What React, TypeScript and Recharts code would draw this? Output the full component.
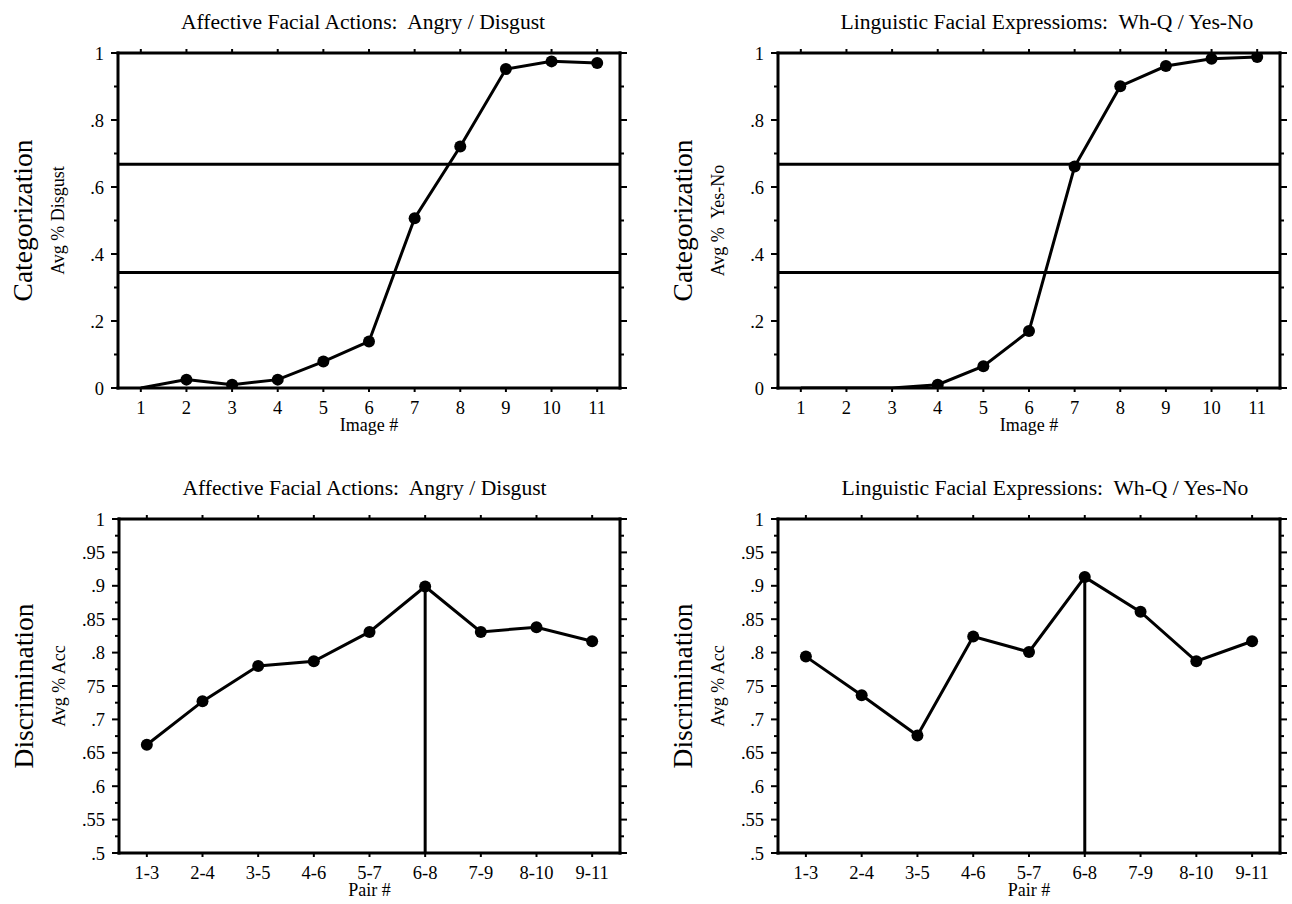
import React from 'react';
import { LineChart, Line, XAxis, YAxis, ReferenceLine } from 'recharts';

// ---------------- data ----------------
const imageNums = [1, 2, 3, 4, 5, 6, 7, 8, 9, 10, 11];
const affectiveCat = [0, 0.025, 0.01, 0.025, 0.079, 0.139, 0.507, 0.721, 0.952, 0.975, 0.97];
const linguisticCat = [0, 0, 0, 0.01, 0.065, 0.17, 0.661, 0.901, 0.961, 0.983, 0.988];

const pairNums = [1, 2, 3, 4, 5, 6, 7, 8, 9];
const pairLabels = ['1-3', '2-4', '3-5', '4-6', '5-7', '6-8', '7-9', '8-10', '9-11'];
const affectiveDisc = [0.662, 0.727, 0.78, 0.787, 0.831, 0.899, 0.831, 0.838, 0.817];
const linguisticDisc = [0.794, 0.736, 0.676, 0.824, 0.801, 0.913, 0.861, 0.787, 0.817];

const catBoundaries = [0.668, 0.345];
const peakPair = 6;

const catTicks = [0, 0.1, 0.2, 0.3, 0.4, 0.5, 0.6, 0.7, 0.8, 0.9, 1];
const catTickLabels = ['0', '', '.2', '', '.4', '', '.6', '', '.8', '', '1'];
const discTicks = [0.5, 0.525, 0.55, 0.575, 0.6, 0.625, 0.65, 0.675, 0.7, 0.725, 0.75, 0.775, 0.8, 0.825, 0.85, 0.875, 0.9, 0.925, 0.95, 0.975, 1];
const discTickLabels = ['.5', '', '.55', '', '.6', '', '.65', '', '.7', '', '75', '', '.8', '', '.85', '', '.9', '', '.95', '', '1'];

const titles = [
  'Affective Facial Actions:  Angry / Disgust',
  'Linguistic Facial Expressioms:  Wh-Q / Yes-No',
  'Affective Facial Actions:  Angry / Disgust',
  'Linguistic Facial Expressions:  Wh-Q / Yes-No',
];

// ---------------- style ----------------
const FONT = '"Liberation Serif", "Times New Roman", Times, serif';
const INK = '#000';
const YS = 7; // y tickSize
const YM = 7; // y tickMargin
const XS = 4; // x tickSize
const XM = 14; // x tickMargin
const TICK_FS = 18.5;

const axisLine = { stroke: INK, strokeWidth: 3, strokeLinecap: 'square' as const };

const leftTick = (labels: string[]) => (p: any) => {
  const { x, y, index } = p;
  const ax = x + YS + YM;
  const lab = labels[index] ?? '';
  const len = lab ? 7 : 4;
  return (
    <g>
      <line x1={ax - len} x2={ax} y1={y} y2={y} stroke={INK} strokeWidth={2} />
      {lab ? (
        <text x={ax - 14} y={y} dy="0.36em" textAnchor="end" fontFamily={FONT} fontSize={TICK_FS} fill={INK}>
          {lab}
        </text>
      ) : null}
    </g>
  );
};

const rightTick = (labels: string[]) => (p: any) => {
  const { x, y, index } = p;
  const ax = x - YS - YM;
  const lab = labels[index] ?? '';
  const len = lab ? 7 : 4;
  return <line x1={ax} x2={ax + len} y1={y} y2={y} stroke={INK} strokeWidth={2} />;
};

const bottomTick = (labels: string[]) => (p: any) => {
  const { x, y, index } = p;
  const ay = y - XS - XM;
  return (
    <g>
      <line x1={x} x2={x} y1={ay} y2={ay + 4} stroke={INK} strokeWidth={2} />
      <text x={x} y={ay + 19} dy="0.36em" textAnchor="middle" fontFamily={FONT} fontSize={TICK_FS} fill={INK}>
        {labels[index]}
      </text>
    </g>
  );
};

const topTick = (p: any) => {
  const { x, y } = p;
  const ay = y + XS + XM;
  return <line x1={x} x2={x} y1={ay - 4} y2={ay} stroke={INK} strokeWidth={2} />;
};

const renderDot = (p: any) => {
  const { cx, cy, index, payload } = p;
  if (!(payload && payload.v > 0)) return <g key={`d${index}`} />;
  return <circle key={`d${index}`} cx={cx} cy={cy} r={6} fill={INK} stroke="none" />;
};

type PanelProps = {
  left: number;
  top: number;
  width: number;
  height: number;
  plotLeft: number;
  plotRight: number;
  plotTop: number;
  plotBottom: number;
  title: string;
  titleDx: number;
  bigLabel: string;
  smallLabel: string;
  xLabel: string;
  xs: number[];
  xLabels: string[];
  values: number[];
  yTicks: number[];
  yLabels: string[];
  yDomain: [number, number];
  hLines?: number[];
  peak?: number;
};

const LW = 40;
const RW = 10;
const TH = 10;
const BH = 30;

function Panel(props: PanelProps) {
  const {
    left, top, width, height, plotLeft, plotRight, plotTop, plotBottom,
    title, titleDx, bigLabel, smallLabel, xLabel, xs, xLabels, values, yTicks, yLabels, yDomain, hLines, peak,
  } = props;
  const data = xs.map((x, i) => ({ x, v: values[i] }));
  const margin = {
    left: plotLeft - LW,
    right: width - plotRight - RW,
    top: plotTop - TH,
    bottom: height - plotBottom - BH,
  };
  const xDomain: [number, number] = [xs[0] - 0.5, xs[xs.length - 1] + 0.5];

  const titleContent = (lp: any) => {
    const vb = lp.viewBox || {};
    const cx = vb.x + vb.width / 2 + titleDx;
    const cy = vb.y + vb.height - 32;
    return (
      <text x={cx} y={cy} dy="0.36em" textAnchor="middle" fontFamily={FONT} fontSize={21.6} fill={INK} style={{ whiteSpace: 'pre' }}>
        {title}
      </text>
    );
  };
  const sideContent = (lp: any) => {
    const vb = lp.viewBox || {};
    const right = vb.x + vb.width;
    const cy = vb.y + vb.height / 2;
    const x1 = right - 96;
    const x2 = right - 60;
    return (
      <g>
        <text x={x1} y={cy} transform={`rotate(-90, ${x1}, ${cy})`} textAnchor="middle" dominantBaseline="central" fontFamily={FONT} fontSize={27.5} fill={INK}>
          {bigLabel}
        </text>
        <text x={x2} y={cy} transform={`rotate(-90, ${x2}, ${cy})`} textAnchor="middle" dominantBaseline="central" fontFamily={FONT} fontSize={18} fill={INK} style={{ whiteSpace: 'pre' }}>
          {smallLabel}
        </text>
      </g>
    );
  };
  const xLabelContent = (lp: any) => {
    const vb = lp.viewBox || {};
    const cx = vb.x + vb.width / 2;
    const cy = vb.y + 37;
    return (
      <text x={cx} y={cy} dy="0.36em" textAnchor="middle" fontFamily={FONT} fontSize={18} fill={INK}>
        {xLabel}
      </text>
    );
  };

  return (
    <div style={{ position: 'absolute', left, top, width, height }}>
      <LineChart width={width} height={height} data={data} margin={margin}>
        <XAxis
          dataKey="x"
          type="number"
          domain={xDomain}
          ticks={xs}
          interval={0}
          orientation="bottom"
          height={BH}
          tickSize={XS}
          tickMargin={XM}
          tickLine={false}
          axisLine={axisLine}
          tick={bottomTick(xLabels)}
          allowDataOverflow
          label={{ content: xLabelContent }}
        />
        <XAxis
          xAxisId="top"
          dataKey="x"
          type="number"
          domain={xDomain}
          ticks={xs}
          interval={0}
          orientation="top"
          height={TH}
          tickSize={XS}
          tickMargin={XM}
          tickLine={false}
          axisLine={axisLine}
          tick={topTick}
          allowDataOverflow
          label={{ content: titleContent }}
        />
        <YAxis
          type="number"
          domain={yDomain}
          ticks={yTicks}
          interval={0}
          width={LW}
          tickSize={YS}
          tickMargin={YM}
          tickLine={false}
          axisLine={axisLine}
          tick={leftTick(yLabels)}
          allowDataOverflow
          label={{ content: sideContent }}
        />
        <YAxis
          yAxisId="right"
          orientation="right"
          type="number"
          domain={yDomain}
          ticks={yTicks}
          interval={0}
          width={RW}
          tickSize={YS}
          tickMargin={YM}
          tickLine={false}
          axisLine={axisLine}
          tick={rightTick(yLabels)}
          allowDataOverflow
        />
        {(hLines || []).map((h, i) => (
          <ReferenceLine key={`h${i}`} y={h} stroke={INK} strokeWidth={3} />
        ))}
        {peak !== undefined ? (
          <ReferenceLine
            segment={[
              { x: xs[peak - 1], y: yDomain[0] },
              { x: xs[peak - 1], y: values[peak - 1] },
            ]}
            stroke={INK}
            strokeWidth={3}
          />
        ) : null}
        <Line
          type="linear"
          dataKey="v"
          stroke={INK}
          strokeWidth={3}
          dot={renderDot}
          activeDot={false}
          isAnimationActive={false}
        />
      </LineChart>
    </div>
  );
}

export default function App() {
  return (
    <div style={{ position: 'relative', width: 1292, height: 904, background: '#fff' }}>
      <style>{'body{margin:0;background:#fff;}'}</style>
      <Panel
        left={0} top={0} width={646} height={440}
        plotLeft={118} plotRight={620} plotTop={53} plotBottom={388}
        title={titles[0]} titleDx={-6}
        bigLabel="Categorization" smallLabel="Avg % Disgust" xLabel="Image #"
        xs={imageNums} xLabels={imageNums.map(String)} values={affectiveCat}
        yTicks={catTicks} yLabels={catTickLabels} yDomain={[0, 1]}
        hLines={catBoundaries}
      />
      <Panel
        left={646} top={0} width={646} height={440}
        plotLeft={132} plotRight={634} plotTop={53} plotBottom={388}
        title={titles[1]} titleDx={18}
        bigLabel="Categorization" smallLabel="Avg %  Yes-No" xLabel="Image #"
        xs={imageNums} xLabels={imageNums.map(String)} values={linguisticCat}
        yTicks={catTicks} yLabels={catTickLabels} yDomain={[0, 1]}
        hLines={catBoundaries}
      />
      <Panel
        left={0} top={440} width={646} height={464}
        plotLeft={119} plotRight={620} plotTop={79} plotBottom={413}
        title={titles[2]} titleDx={-5}
        bigLabel="Discrimination" smallLabel="Avg % Acc" xLabel="Pair #"
        xs={pairNums} xLabels={pairLabels} values={affectiveDisc}
        yTicks={discTicks} yLabels={discTickLabels} yDomain={[0.5, 1]}
        peak={peakPair}
      />
      <Panel
        left={646} top={440} width={646} height={464}
        plotLeft={132} plotRight={634} plotTop={79} plotBottom={413}
        title={titles[3]} titleDx={16}
        bigLabel="Discrimination" smallLabel="Avg % Acc" xLabel="Pair #"
        xs={pairNums} xLabels={pairLabels} values={linguisticDisc}
        yTicks={discTicks} yLabels={discTickLabels} yDomain={[0.5, 1]}
        peak={peakPair}
      />
    </div>
  );
}
